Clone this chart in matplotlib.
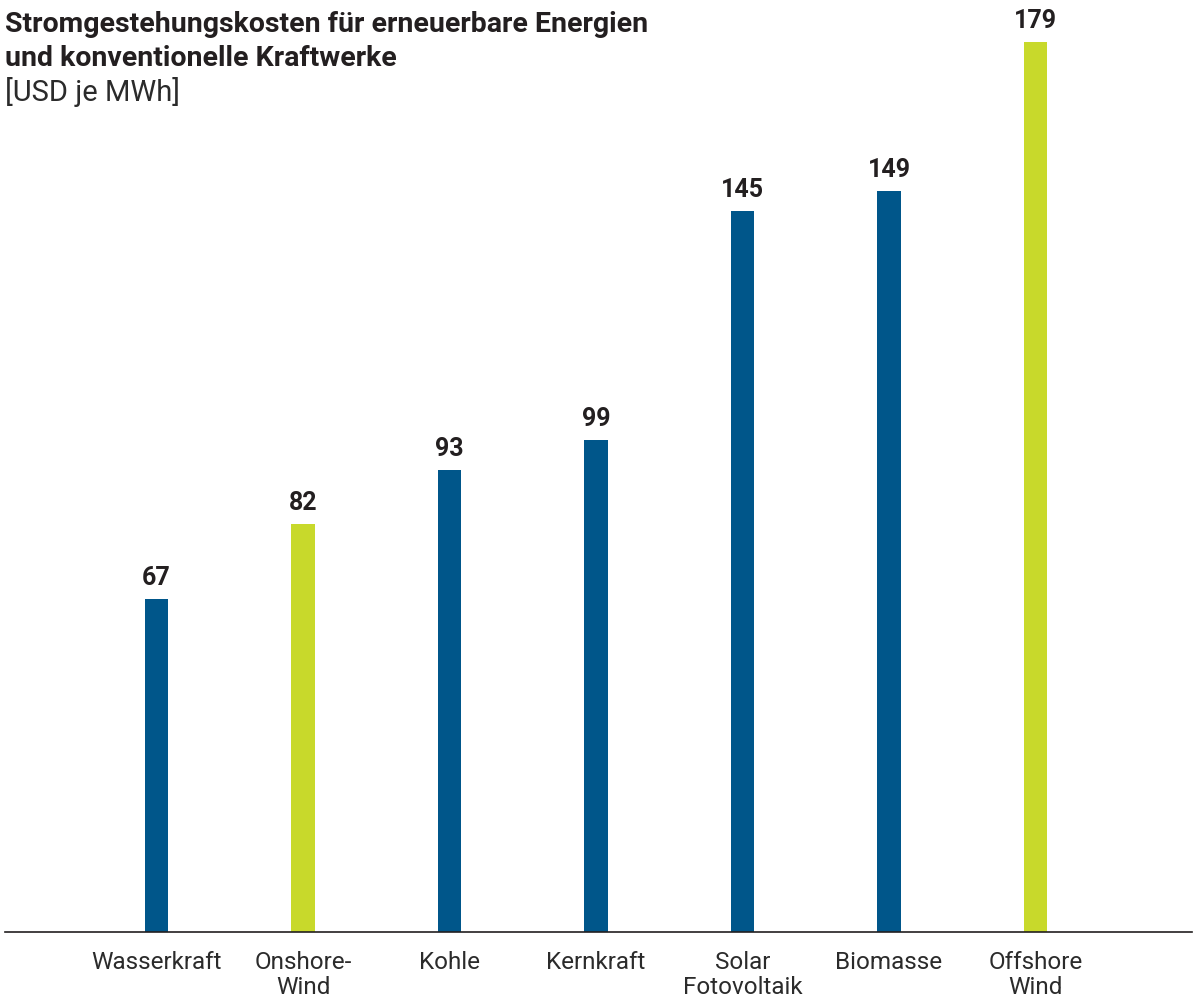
import matplotlib
matplotlib.use("Agg")
import matplotlib.pyplot as plt

# Daten
kategorien = ["Wasserkraft", "Onshore-\nWind", "Kohle", "Kernkraft",
              "Solar\nFotovoltaik", "Biomasse", "Offshore\nWind"]
kosten = [67, 82, 93, 99, 145, 149, 179]
erneuerbar_wind = [False, True, False, False, False, False, True]

blau = "#00568a"
gruen = "#c8d92b"
textfarbe = "#231f20"

plt.rcParams["font.family"] = ["Roboto", "DejaVu Sans"]

fig = plt.figure(figsize=(11.97, 9.98), dpi=100)
# Achse: links 5px, rechts 1192px, Grundlinie bei y=932px
ax = fig.add_axes([5 / 1197, 66 / 998, 1187 / 1197, 932 / 998])

x = list(range(len(kategorien)))
farben = [gruen if g else blau for g in erneuerbar_wind]
ax.bar(x, kosten, width=0.157, color=farben, zorder=2)

for xi, wert in zip(x, kosten):
    ax.annotate(str(wert), (xi, wert), xytext=(0, 10), textcoords="offset points",
                ha="center", va="baseline", fontsize=18, fontweight="bold",
                color=textfarbe)

ax.set_xlim((5 - 156.5) / 146.5, (1192 - 156.5) / 146.5)
ax.set_ylim(0, 932 / 4.972)

for s in ["top", "right", "left"]:
    ax.spines[s].set_visible(False)
ax.spines["bottom"].set_color(textfarbe)
ax.spines["bottom"].set_linewidth(1.2)
ax.set_yticks([])
ax.set_xticks(x)
ax.set_xticklabels(kategorien, fontsize=17.5, color="#2b2b2b", linespacing=1.1)
ax.tick_params(axis="x", length=0, pad=14)

# Titel
fig.text(5 / 1197, 1 - 32 / 998, "Stromgestehungskosten für erneuerbare Energien",
         fontsize=20.5, fontweight="bold", color=textfarbe, va="baseline")
fig.text(5 / 1197, 1 - 66 / 998, "und konventionelle Kraftwerke",
         fontsize=20.5, fontweight="bold", color=textfarbe, va="baseline")
fig.text(5 / 1197, 1 - 101 / 998, "[USD je MWh]",
         fontsize=21, fontweight="normal", color="#2b2b2b", va="baseline")

fig.savefig("out.png", dpi=100)
